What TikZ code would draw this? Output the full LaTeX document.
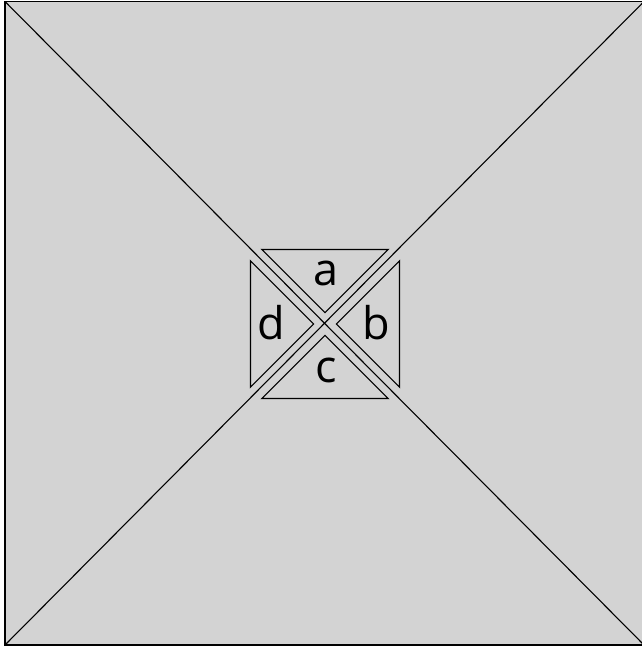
\documentclass[tikz,border=0pt]{standalone}
\usepackage{fontspec}
\setmainfont{Open Sans}
\definecolor{panelgray}{RGB}{211,211,211}
\begin{document}
\begin{tikzpicture}[x=1pt, y=-1pt, line join=miter,
    frame/.style={draw=black, line width=1.3pt, fill=panelgray},
    cutline/.style={draw=black, line width=1.1pt},
    wedge/.style={draw=black, line width=1.1pt},
    letter/.style={font=\fontsize{45}{45}\selectfont, inner sep=0pt}]
  \useasboundingbox (0,0) rectangle (641,646);

  % outer square and its diagonals
  \draw[frame] (5,1.5) rectangle (646,645);
  \coordinate (tl) at (5,1.5);
  \coordinate (tr) at (644,1.5);
  \coordinate (bl) at (5,645);
  \coordinate (br) at (644,645);
  \draw[cutline] (tl) -- (br);
  \draw[cutline] (bl) -- (tr);

  % centre wedges
  \coordinate (mid) at (325,324);
  \draw[wedge] ([shift={(-63.2,-74.5)}]mid) -- ([shift={(63.2,-74.5)}]mid) -- ([shift={(0,-11.3)}]mid) -- cycle;
  \draw[wedge] ([shift={(74.5,-63.2)}]mid) -- ([shift={(74.5,63.2)}]mid) -- ([shift={(11.3,0)}]mid) -- cycle;
  \draw[wedge] ([shift={(-63.2,74.5)}]mid) -- ([shift={(63.2,74.5)}]mid) -- ([shift={(0,11.3)}]mid) -- cycle;
  \draw[wedge] ([shift={(-74.5,-63.2)}]mid) -- ([shift={(-74.5,63.2)}]mid) -- ([shift={(-11.3,0)}]mid) -- cycle;

  % labels
  \node[letter] (la) at ([shift={(1,-51)}]mid) {a};
  \node[letter] (lb) at ([shift={(51.7,-1)}]mid) {b};
  \node[letter] (lc) at ([shift={(1,46)}]mid) {c};
  \node[letter] (ld) at ([shift={(-53.3,-1)}]mid) {d};
\end{tikzpicture}
\end{document}
